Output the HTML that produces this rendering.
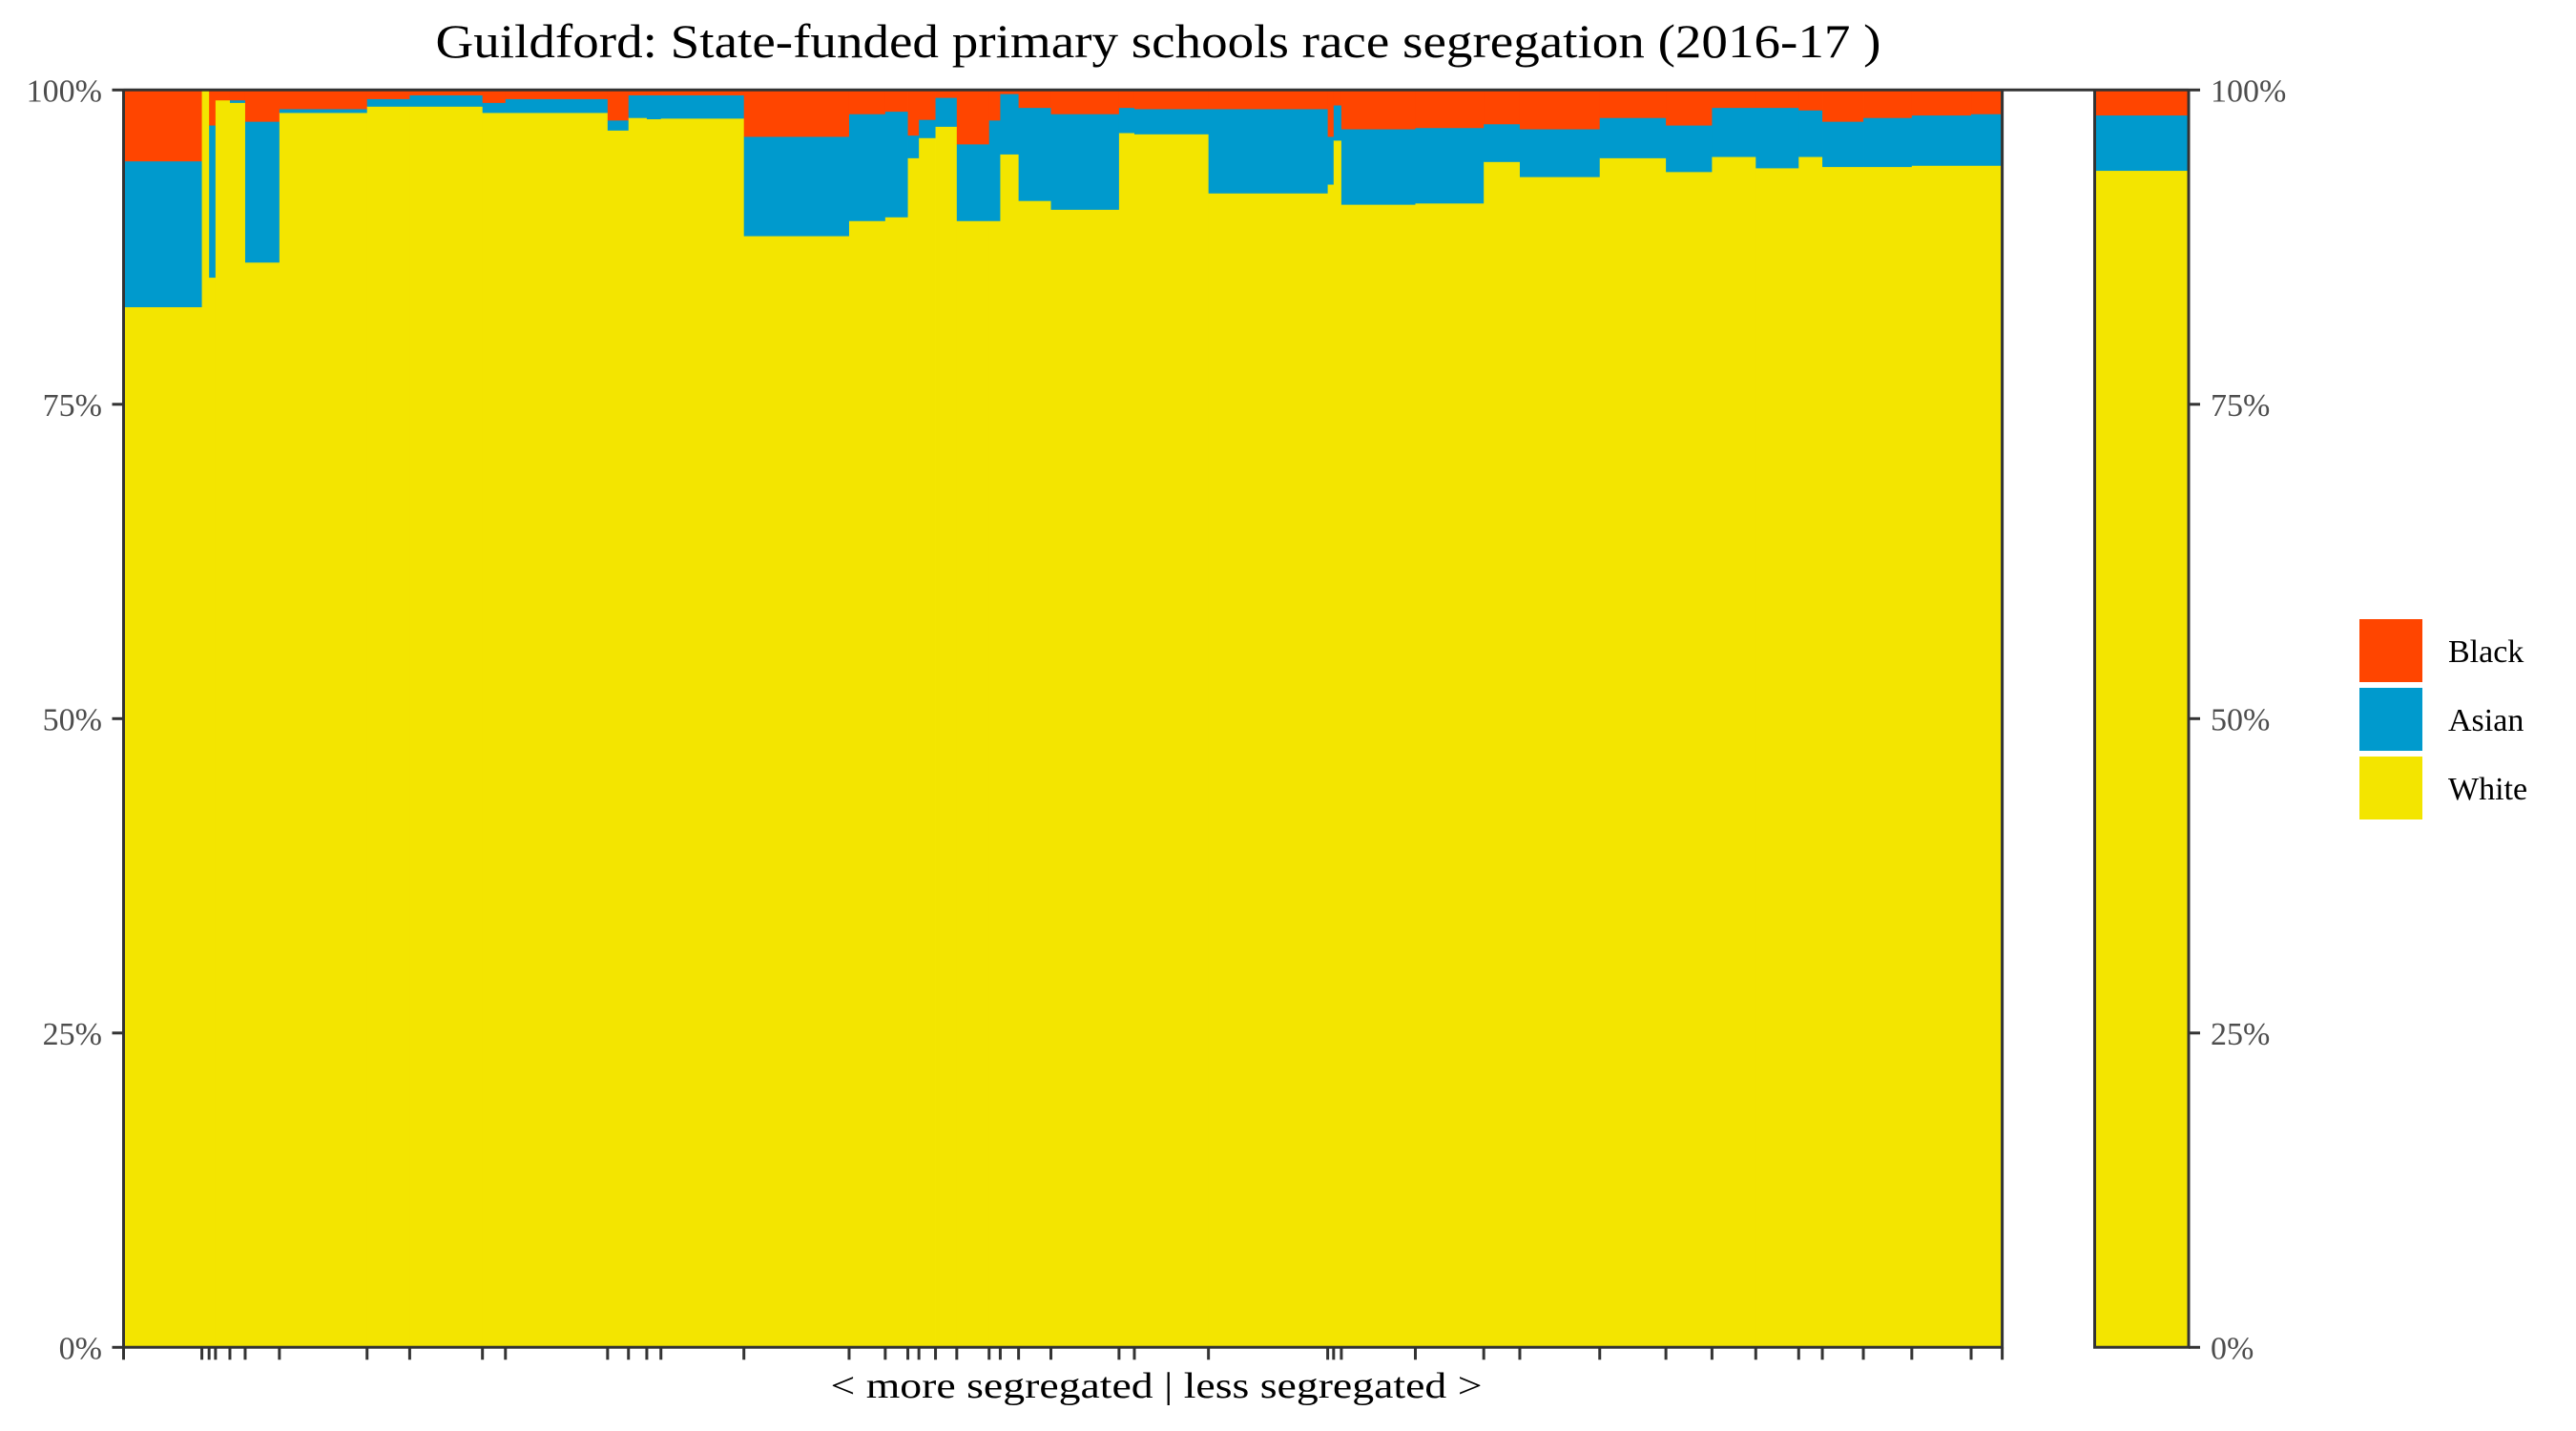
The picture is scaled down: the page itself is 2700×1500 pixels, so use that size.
<!DOCTYPE html>
<html><head><meta charset="utf-8"><style>
html,body{margin:0;padding:0;background:#fff;}
svg{display:block;}
</style></head><body>
<svg id="chart" width="2700" height="1500" xmlns="http://www.w3.org/2000/svg">
<rect width="2700" height="1500" fill="#fff"/>
<text x="1214" y="60" text-anchor="middle" font-family="Liberation Serif, serif" font-size="50" textLength="1515" lengthAdjust="spacingAndGlyphs" fill="#000">Guildford: State-funded primary schools race segregation (2016-17 )</text>
<g id="bars"></g>
<g id="axes"></g>
<text x="1212" y="1465" text-anchor="middle" font-family="Liberation Serif, serif" font-size="38" textLength="683" lengthAdjust="spacingAndGlyphs" fill="#000">&lt; more segregated | less segregated &gt;</text>
<g font-family="Liberation Serif, serif" font-size="34" fill="#000">
 <rect x="2473" y="649" width="66" height="66" fill="#FF4500"/>
 <text x="2566" y="694">Black</text>
 <rect x="2473" y="721" width="66" height="66" fill="#009ACD"/>
 <text x="2566" y="766">Asian</text>
 <rect x="2473" y="793" width="66" height="66" fill="#F3E500"/>
 <text x="2566" y="838">White</text>
</g>
</svg>
<script>
// school sizes (relative widths), white %, asian % (black = remainder)
const schoolSizes = [82.1,7.6,6.7,15.1,16,35.9,91.9,44.7,76.3,24.1,107.1,21.9,19.2,14.8,87,110.3,37.9,23.7,11.6,17.4,22.3,33.9,11.7,19.2,33.9,71.4,16.1,77.7,125,6.2,8.1,77.6,71.7,37.8,83.8,69.4,48.3,45.9,45,24.8,43,50.8,62.2,32.6];
const whitePct = [82.75,100,85.1,99.2,99.0,86.3,98.2,98.7,98.7,98.2,98.2,96.8,97.8,97.7,97.75,88.4,89.6,89.9,94.6,96.2,97.1,89.6,89.6,94.9,91.2,90.5,96.6,96.5,91.8,92.5,96.0,90.9,91.0,94.3,93.1,94.6,93.5,94.7,93.8,94.7,93.9,93.9,94.0,94.0];
const asianPct = [11.6,0,12.1,0,0.2,11.2,0.3,0.6,0.9,0.8,1.1,0.8,1.8,1.9,1.85,7.9,8.5,8.4,1.8,1.45,2.3,6.1,8.0,4.8,7.4,7.6,2.0,2.0,6.7,3.8,2.8,6.0,6.0,3.0,3.8,3.2,3.7,3.9,4.8,3.7,3.6,3.9,4.0,4.1];
const totalWhite = [93.6];
const totalAsian = [4.4];
const yTicks = [0,25,50,75,100];
const yTickLabels = ["0%","25%","50%","75%","100%"];

const NS="http://www.w3.org/2000/svg";
const X0=129.5, X1=2098.6, P2X0=2195.5, P2X1=2294, YT=94.3, YB=1412.3;
const C={black:"#FF4500",asian:"#009ACD",white:"#F3E500"};
const total=schoolSizes.reduce((a,b)=>a+b,0);
function xs(v){return X0+(v/total)*(X1-X0);}
function ys(p){return YB-(p/100)*(YB-YT);}
function mk(tag,attrs,parent){const e=document.createElementNS(NS,tag);for(const k in attrs)e.setAttribute(k,attrs[k]);parent.appendChild(e);return e;}
const bars=document.getElementById('bars');
const axes=document.getElementById('axes');
function stack(x0,x1,w,a,i,g){
  const segs=[["white",0,w],["asian",w,w+a],["black",w+a,100]];
  segs.forEach(s=>{
    if(s[2]-s[1]<=0)return;
    const r=mk('rect',{x:x0,y:ys(s[2]),width:x1-x0+0.4,height:ys(s[1])-ys(s[2])+0.4,fill:C[s[0]]},g);
    
    
  });
}
let cum=0;const bounds=[0];
schoolSizes.forEach((s,i)=>{
  const x0=xs(cum),x1=xs(cum+s);
  stack(x0,x1,whitePct[i],asianPct[i],'school-'+(i+1),bars);
  cum+=s;bounds.push(cum);
});
stack(P2X0,P2X1,totalWhite[0],totalAsian[0],'total',bars);
// panel borders
const b1=mk('path',{d:`M${X0} ${YB} V${YT} M${X1} ${YT} V${YB} H${X0}`,fill:'none',stroke:'#333',"stroke-width":3},axes);


const b2=mk('path',{d:`M${P2X0} ${YT} V${YB} H${P2X1} V${YT}`,fill:'none',stroke:'#333',"stroke-width":3},axes);


const bt=mk('line',{x1:X0,x2:P2X1,y1:YT,y2:YT,stroke:'#333',"stroke-width":3},axes);


// x ticks
bounds.forEach((b,i)=>{
  const x=xs(b);
  const t=mk('line',{x1:x,x2:x,y1:YB,y2:YB+13,stroke:'#333',"stroke-width":3},axes);
  
  
});
// y ticks & labels
yTicks.forEach((v,i)=>{
  const y=ys(v);
  const tl=mk('line',{x1:X0-12,x2:X0,y1:y,y2:y,stroke:'#333',"stroke-width":3},axes);
  
  
  const tr=mk('line',{x1:P2X1,x2:P2X1+12,y1:y,y2:y,stroke:'#333',"stroke-width":3},axes);
  
  
  const l=mk('text',{x:107,y:y+12,"text-anchor":"end","font-family":"Liberation Serif, serif","font-size":34,fill:"#4d4d4d"},axes);
  l.textContent=yTickLabels[i];
  
  
  const r=mk('text',{x:2317,y:y+12,"text-anchor":"start","font-family":"Liberation Serif, serif","font-size":34,fill:"#4d4d4d"},axes);
  r.textContent=yTickLabels[i];
  
  
});
</script>
</body></html>
